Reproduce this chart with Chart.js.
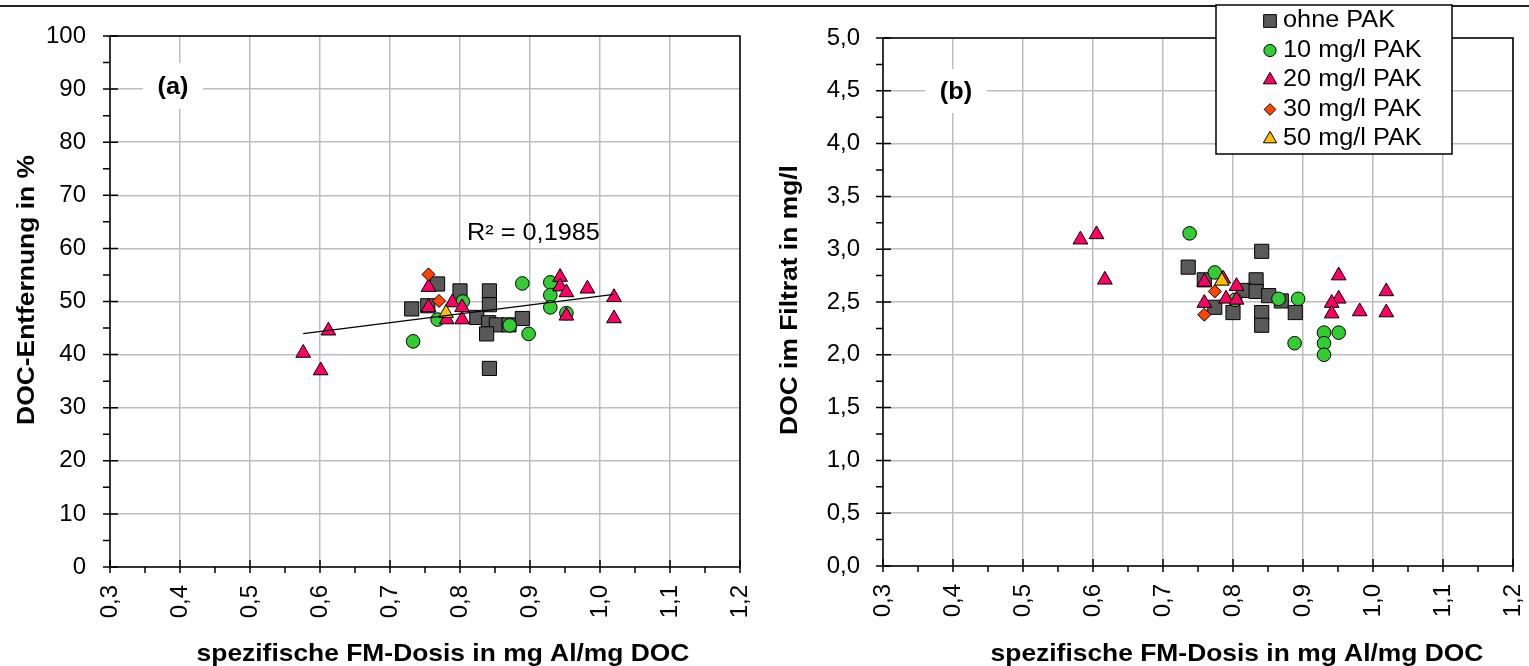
<!DOCTYPE html>
<html>
<head>
<meta charset="utf-8">
<script src="https://cdn.jsdelivr.net/npm/chart.js@4.4.1/dist/chart.umd.min.js"></script>
<style>
  body { margin: 0; background: #fff; }
  #wrap { position: relative; width: 1529px; height: 666px; overflow: hidden; }
  #frame { position: absolute; left: 0; top: 5px; width: 1529px; border-top: 2px solid #222; }
  #c1 { position: absolute; left: 0; top: 0; }
  #c2 { position: absolute; left: 765px; top: 0; }
</style>
</head>
<body>
<div id="wrap">
  <div id="frame"></div>
  <canvas id="c1" width="765" height="666"></canvas>
  <canvas id="c2" width="764" height="666"></canvas>
</div>
<script>
// series names
const seriesNames = ['ohne PAK', '10 mg/l PAK', '20 mg/l PAK', '30 mg/l PAK', '50 mg/l PAK'];

// (a) DOC-Entfernung in %  -> [spez. FM-Dosis, Entfernung]
const a_ohne = [[0.768, 53.3], [0.731, 48.6], [0.754, 49.2], [0.800, 52.0], [0.842, 52.0], [0.842, 49.4],
  [0.824, 47.0], [0.841, 46.0], [0.852, 45.6], [0.870, 45.6], [0.889, 46.8], [0.838, 43.9], [0.842, 37.4]];
const a_10 = [[0.889, 53.4], [0.929, 53.6], [0.929, 51.2], [0.929, 48.9], [0.952, 47.8], [0.804, 50.0],
  [0.768, 46.6], [0.871, 45.5], [0.898, 43.9], [0.733, 42.5]];
const a_20 = [[0.576, 40.3], [0.601, 37.0], [0.612, 44.5], [0.755, 52.7], [0.755, 48.9], [0.789, 49.8],
  [0.803, 48.9], [0.803, 46.6], [0.781, 46.6], [0.943, 54.6], [0.943, 52.8], [0.952, 51.7], [0.982, 52.4],
  [1.020, 50.8], [0.952, 47.3], [1.020, 46.8]];
const a_30 = [[0.755, 55.1], [0.770, 50.1]];
const a_50 = [[0.780, 47.8]];

// (b) DOC im Filtrat in mg/l
const b_ohne = [[0.841, 2.98], [0.736, 2.83], [0.759, 2.71], [0.774, 2.45], [0.800, 2.40], [0.833, 2.71],
  [0.815, 2.61], [0.833, 2.60], [0.851, 2.56], [0.869, 2.51], [0.841, 2.40], [0.841, 2.28], [0.889, 2.40]];
const b_10 = [[0.738, 3.15], [0.774, 2.78], [0.803, 2.52], [0.865, 2.53], [0.893, 2.53], [0.930, 2.21],
  [0.951, 2.21], [0.930, 2.11], [0.888, 2.11], [0.930, 2.00]];
const b_20 = [[0.582, 3.09], [0.605, 3.14], [0.617, 2.71], [0.759, 2.69], [0.786, 2.72], [0.805, 2.65],
  [0.790, 2.53], [0.805, 2.52], [0.759, 2.49], [0.951, 2.75], [0.951, 2.53], [0.941, 2.49], [0.941, 2.39],
  [0.981, 2.41], [1.019, 2.60], [1.019, 2.40]];
const b_30 = [[0.774, 2.60], [0.759, 2.38]];
const b_50 = [[0.784, 2.70]];

const r2Label = 'R² = 0,1985';
const xTitle = 'spezifische FM-Dosis in mg Al/mg DOC';

const FONT = "'Liberation Sans', Arial, sans-serif";
const SX = 1.1; // text in the original is a little wider than Arial
Chart.defaults.font.family = FONT;
Chart.defaults.color = '#000';

const markers = [
  { pointStyle: 'rect', radius: 10, bg: '#595959' },
  { pointStyle: 'circle', radius: 6.8, bg: '#33cc33' },
  { pointStyle: 'triangle', radius: 8.5, bg: '#ff0066' },
  { pointStyle: 'rectRot', radius: 6.5, bg: '#ff4500' },
  { pointStyle: 'triangle', radius: 8.5, bg: '#ffc000' }
];

const fmt1 = v => Number(v).toFixed(1).replace('.', ',');

function wideText(ctx, text, x, y, align, rot) {
  ctx.save();
  ctx.translate(x, y);
  if (rot) ctx.rotate(rot);
  ctx.scale(SX, 1);
  ctx.textAlign = align;
  ctx.fillText(text, 0, 0);
  ctx.restore();
}

function makeSets(groups) {
  return groups.map((pts, i) => ({
    label: seriesNames[i],
    data: pts.map(p => ({ x: p[0], y: p[1] })),
    pointStyle: markers[i].pointStyle,
    pointRadius: markers[i].radius,
    backgroundColor: markers[i].bg,
    borderColor: '#000',
    borderWidth: 1,
    order: 5 - i
  }));
}

// linear trend for (a)
const allA = [].concat(a_ohne, a_10, a_20, a_30, a_50);
const mx = allA.reduce((s, p) => s + p[0], 0) / allA.length;
const my = allA.reduce((s, p) => s + p[1], 0) / allA.length;
let sxy = 0, sxx = 0;
allA.forEach(p => { sxy += (p[0] - mx) * (p[1] - my); sxx += (p[0] - mx) * (p[0] - mx); });
const slope = sxy / sxx;
const icpt = my - slope * mx;
const xMin = Math.min(...allA.map(p => p[0]));
const xMax = Math.max(...allA.map(p => p[0]));

// black frame round the plot area + major/minor tick marks
const axisFrame = {
  id: 'axisFrame',
  afterDatasetsDraw(chart, args, opts) {
    const { ctx, chartArea: a, scales: { x, y } } = chart;
    ctx.save();
    ctx.strokeStyle = '#000';
    ctx.lineWidth = 1.5;
    ctx.strokeRect(a.left, a.top, a.right - a.left, a.bottom - a.top);
    ctx.beginPath();
    const nx = Math.round((x.max - x.min) / opts.xStep) * 2;
    for (let i = 0; i <= nx; i++) {
      const px = x.getPixelForValue(x.min + i * opts.xStep / 2);
      ctx.moveTo(px, i % 2 ? a.bottom : a.bottom - 7);
      ctx.lineTo(px, a.bottom + 6);
    }
    const ny = Math.round((y.max - y.min) / opts.yStep) * 2;
    for (let i = 0; i <= ny; i++) {
      const py = y.getPixelForValue(y.min + i * opts.yStep / 2);
      ctx.moveTo(a.left - 7, py);
      ctx.lineTo(i % 2 ? a.left : a.left + 8, py);
    }
    ctx.stroke();
    ctx.restore();
  }
};

// panel letter in a white box, R² text and the axis titles
const panelText = {
  id: 'panelText',
  beforeDatasetsDraw(chart, args, opts) {
    const { ctx } = chart;
    ctx.save();
    ctx.fillStyle = '#fff';
    ctx.fillRect(opts.box[0], opts.box[1], opts.box[2], opts.box[3]);
    ctx.fillStyle = '#000';
    ctx.font = 'bold 23px ' + FONT;
    ctx.textBaseline = 'middle';
    wideText(ctx, opts.letter, opts.box[0] + opts.box[2] / 2, opts.box[1] + opts.box[3] / 2 + 2, 'center');
    ctx.textBaseline = 'alphabetic';
    if (opts.r2) {
      ctx.font = '23px ' + FONT;
      wideText(ctx, opts.r2, opts.r2Pos[0], opts.r2Pos[1], 'left');
    }
    ctx.font = 'bold 24px ' + FONT;
    wideText(ctx, xTitle, opts.xTitleX, 661, 'center');
    ctx.textBaseline = 'middle';
    wideText(ctx, opts.yTitle, opts.yTitlePos[0], opts.yTitlePos[1], 'center', -Math.PI / 2);
    ctx.restore();
  }
};

// legend box over the top right corner of (b)
const boxLegend = {
  id: 'boxLegend',
  afterDraw(chart, args, opts) {
    if (!opts.show) return;
    const { ctx } = chart;
    ctx.save();
    ctx.fillStyle = '#fff';
    ctx.strokeStyle = '#000';
    ctx.lineWidth = 1.5;
    ctx.fillRect(451, 5, 236, 149);
    ctx.strokeRect(451, 5, 236, 149);
    ctx.font = '23px ' + FONT;
    ctx.textBaseline = 'middle';
    seriesNames.forEach((name, i) => {
      const yy = 20 + i * 29.5;
      ctx.fillStyle = markers[i].bg;
      ctx.strokeStyle = '#000';
      ctx.lineWidth = 1;
      Chart.helpers.drawPoint(ctx, {
        pointStyle: markers[i].pointStyle,
        radius: markers[i].radius * 0.9,
        borderWidth: 1,
        rotation: 0
      }, 505, yy + 1);
      ctx.fillStyle = '#000';
      wideText(ctx, name, 518, yy + 1, 'left');
    });
    ctx.restore();
  }
};

function scaleOpts(yMin, yMax, yStep, yFmt, yW, xH, yPad) {
  return {
    x: {
      type: 'linear', min: 0.3, max: 1.2,
      afterFit: s => { s.height = xH; s.paddingLeft = 0; s.paddingRight = 0; },
      grid: { color: '#bdbdbd', lineWidth: 1.5, drawTicks: false },
      border: { display: false },
      ticks: {
        stepSize: 0.1, autoSkip: false, minRotation: 90, maxRotation: 90,
        padding: 18, font: { size: 24 }, callback: v => fmt1(v)
      }
    },
    y: {
      type: 'linear', min: yMin, max: yMax,
      afterFit: s => { s.width = yW; s.paddingTop = 0; s.paddingBottom = 0; },
      grid: { color: '#bdbdbd', lineWidth: 1.5, drawTicks: false },
      border: { display: false },
      ticks: { stepSize: yStep, autoSkip: false, padding: yPad, font: { size: 24 }, callback: yFmt }
    }
  };
}

const setsA = makeSets([a_ohne, a_10, a_20, a_30, a_50]);
setsA.push({
  type: 'line',
  label: 'Trend',
  data: [{ x: xMin, y: icpt + slope * xMin }, { x: xMax, y: icpt + slope * xMax }],
  borderColor: '#000',
  borderWidth: 1.3,
  pointRadius: 0,
  order: 0
});

new Chart(document.getElementById('c1'), {
  type: 'scatter',
  data: { datasets: setsA },
  options: {
    responsive: false,
    animation: false,
    layout: { padding: { left: 0, top: 36, right: 25, bottom: 0 } },
    scales: scaleOpts(0, 100, 10, v => String(v), 110, 99, 24),
    plugins: {
      legend: { display: false },
      tooltip: { enabled: false },
      axisFrame: { xStep: 0.1, yStep: 10 },
      panelText: {
        box: [143, 63, 60, 46], letter: '(a)', r2: r2Label, r2Pos: [467, 240],
        xTitleX: 443, yTitle: 'DOC-Entfernung in %', yTitlePos: [27, 290]
      },
      boxLegend: { show: false }
    }
  },
  plugins: [panelText, axisFrame, boxLegend]
});

new Chart(document.getElementById('c2'), {
  type: 'scatter',
  data: { datasets: makeSets([b_ohne, b_10, b_20, b_30, b_50]) },
  options: {
    responsive: false,
    animation: false,
    layout: { padding: { left: 0, top: 38, right: 16, bottom: 0 } },
    scales: scaleOpts(0, 5, 0.5, v => fmt1(v), 118, 100, 23),
    plugins: {
      legend: { display: false },
      tooltip: { enabled: false },
      axisFrame: { xStep: 0.1, yStep: 0.5 },
      panelText: {
        box: [160, 69, 62, 44], letter: '(b)', r2: null,
        xTitleX: 472, yTitle: 'DOC im Filtrat in mg/l', yTitlePos: [25, 300]
      },
      boxLegend: { show: true }
    }
  },
  plugins: [panelText, axisFrame, boxLegend]
});
</script>
</body>
</html>
